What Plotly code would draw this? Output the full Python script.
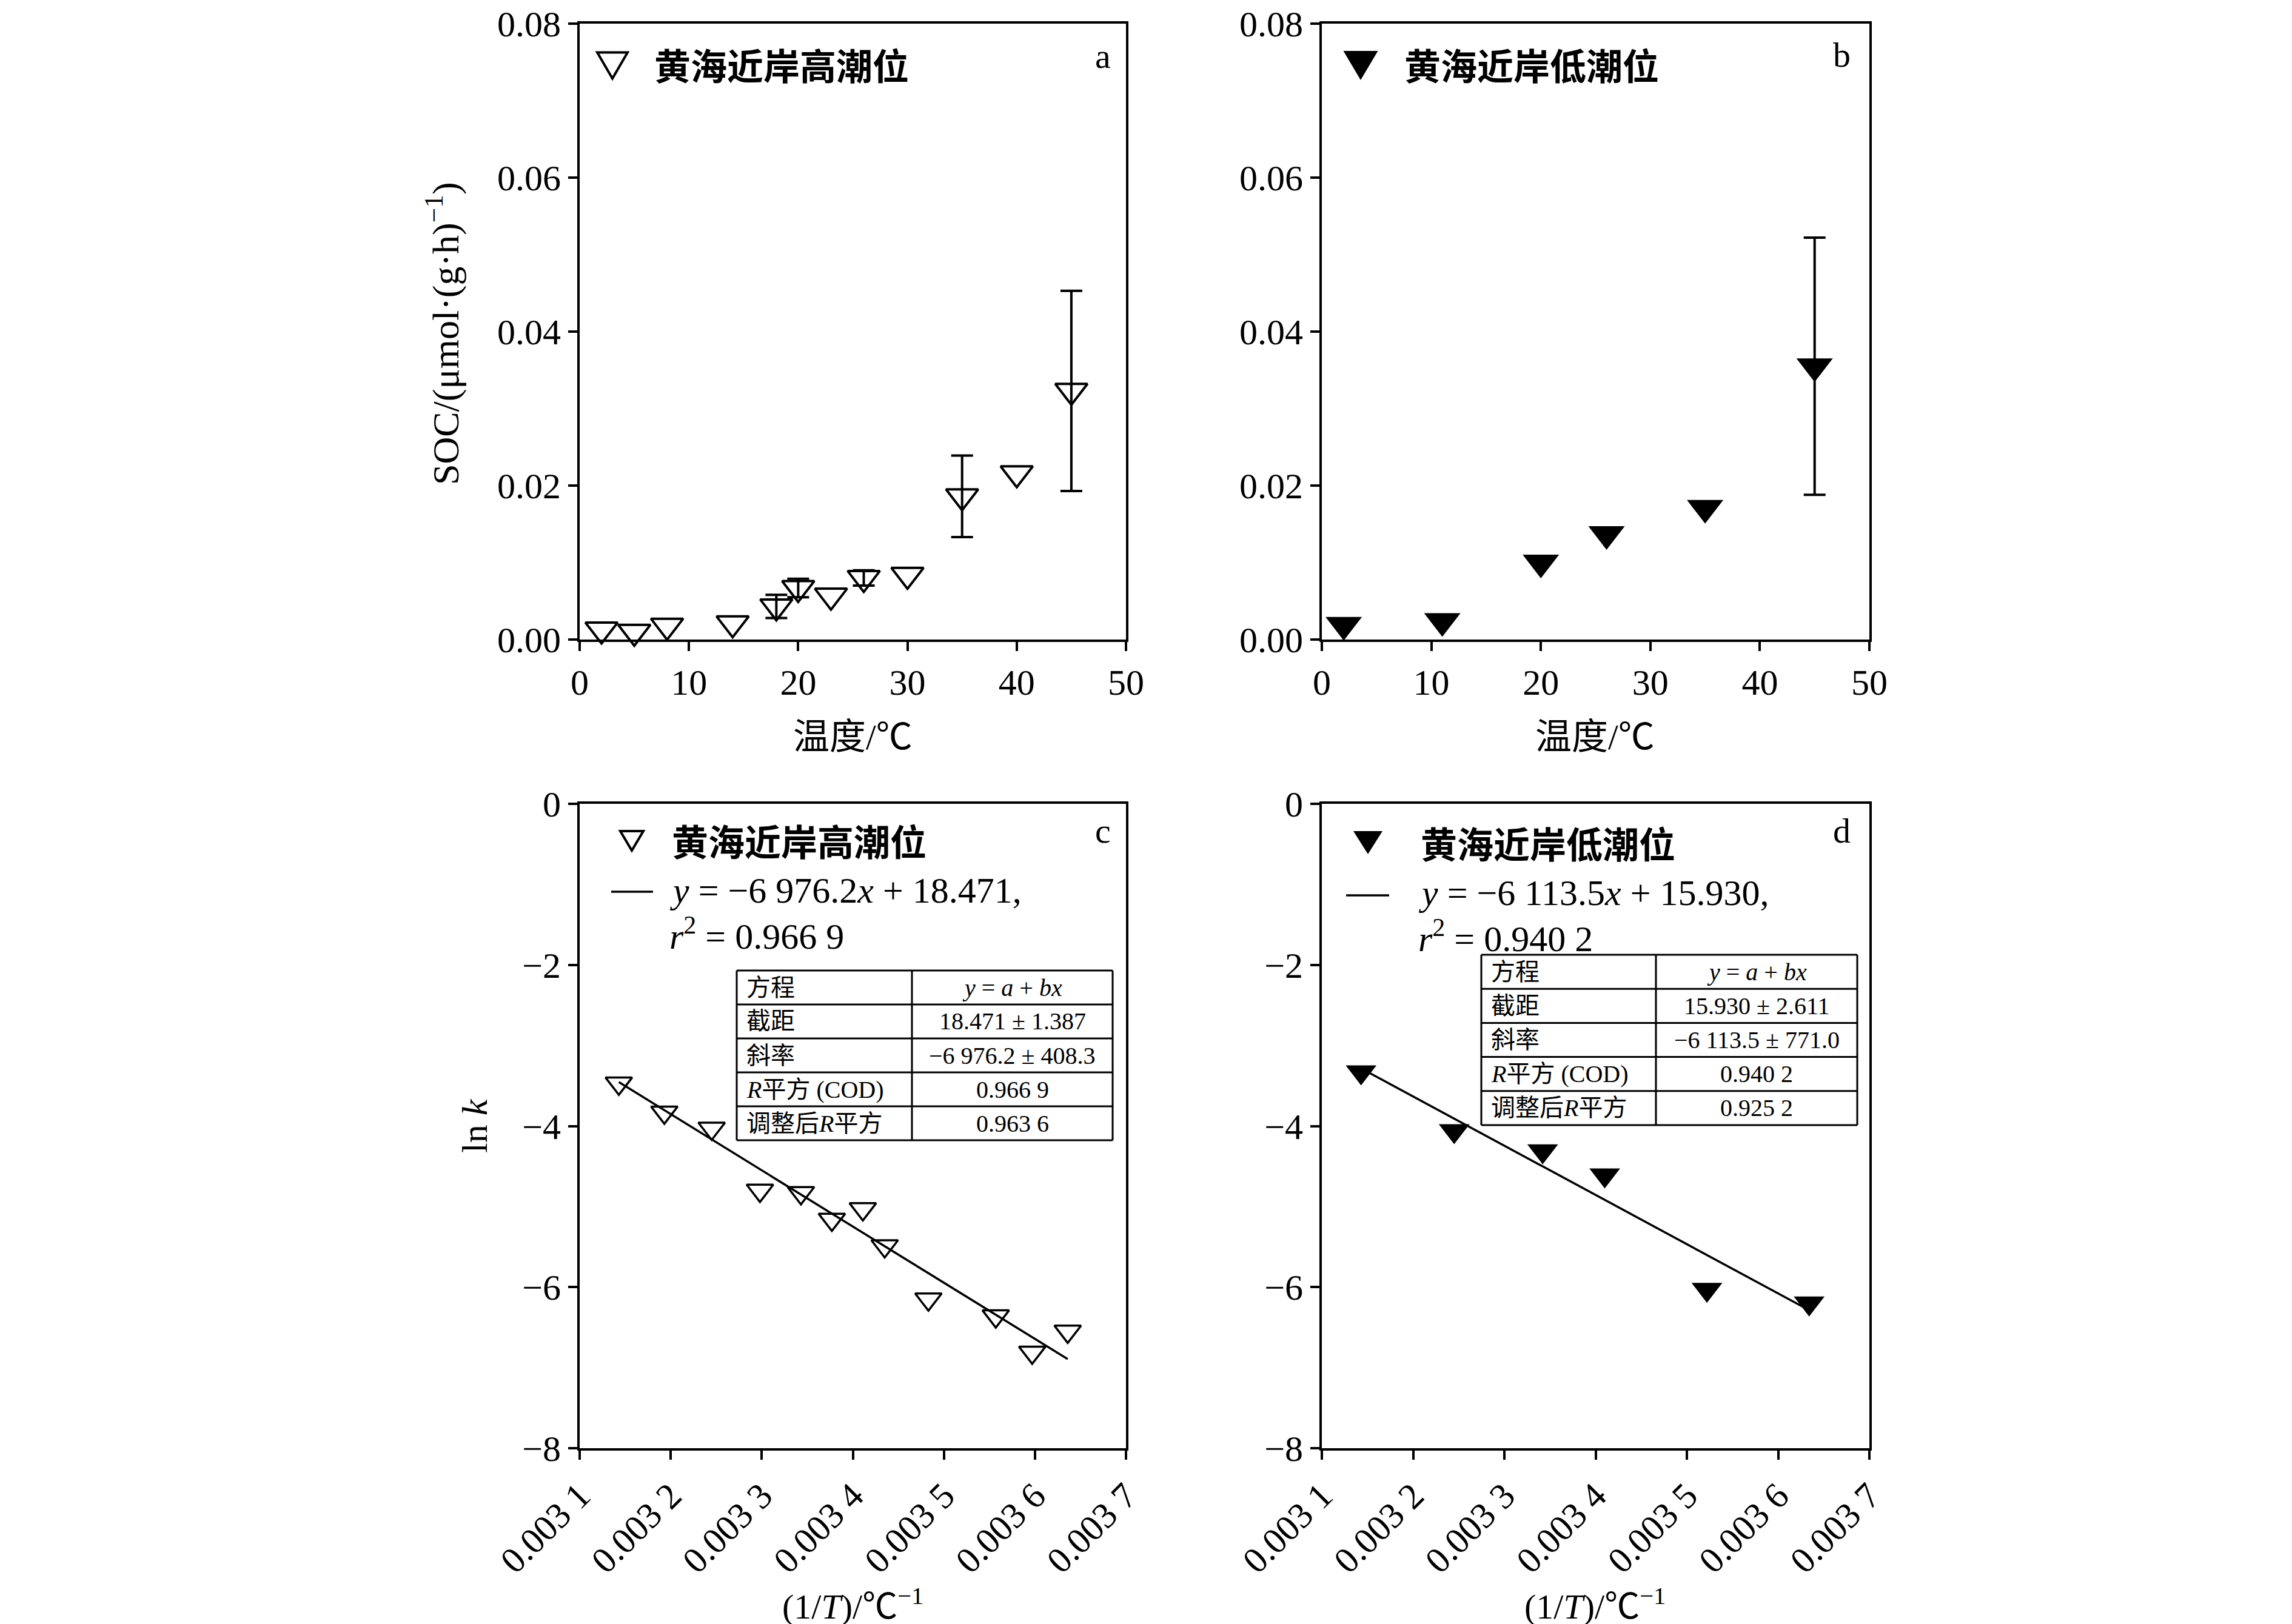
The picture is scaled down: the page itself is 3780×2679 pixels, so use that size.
import plotly.graph_objects as go

W, H = 3780, 2679

# ---------------- data ----------------
temp_a = [2, 5, 8, 14, 18, 20, 23, 26, 30, 35, 40, 45]
soc_a = [0.0013, 0.0010, 0.0018, 0.0021, 0.0043, 0.0067, 0.0057, 0.0080, 0.0084, 0.0186, 0.0216, 0.0323]
err_a = [0, 0, 0, 0, 0.0015, 0.0012, 0, 0.0010, 0, 0.0053, 0, 0.0130]

temp_b = [2, 11, 20, 26, 35, 45]
soc_b = [0.0019, 0.0024, 0.0100, 0.0137, 0.0171, 0.0355]
err_b = [0, 0, 0, 0, 0, 0.0167]

invT_c = [0.003143, 0.003193, 0.003245, 0.003298, 0.003343, 0.003377, 0.003411, 0.003435, 0.003483, 0.003557, 0.003597, 0.003636]
lnk_c = [-3.47, -3.83, -4.03, -4.80, -4.83, -5.16, -5.03, -5.49, -6.15, -6.36, -6.81, -6.55]
slope_c, intercept_c = -6976.2, 18.471

invT_d = [0.003143, 0.003245, 0.003342, 0.003410, 0.003522, 0.003634]
lnk_d = [-3.33, -4.06, -4.31, -4.61, -6.03, -6.20]
slope_d, intercept_d = -6113.5, 15.930

soc_ticks = [0, 0.02, 0.04, 0.06, 0.08]
soc_ticktext = ["0.00", "0.02", "0.04", "0.06", "0.08"]
temp_ticks = [0, 10, 20, 30, 40, 50]
invT_ticks = [0.0031, 0.0032, 0.0033, 0.0034, 0.0035, 0.0036, 0.0037]
invT_ticktext = ["0.003 1", "0.003 2", "0.003 3", "0.003 4", "0.003 5", "0.003 6", "0.003 7"]
lnk_ticks = [-8, -6, -4, -2, 0]
lnk_ticktext = ["\u22128", "\u22126", "\u22124", "\u22122", "0"]

legend_high = "黄海近岸高潮位"
legend_low = "黄海近岸低潮位"
eq_c = ["<i>y</i> = \u22126 976.2<i>x</i> + 18.471,", "<i>r</i><sup>2</sup> = 0.966 9"]
eq_d = ["<i>y</i> = \u22126 113.5<i>x</i> + 15.930,", "<i>r</i><sup>2</sup> = 0.940 2"]
table_labels = ["方程", "截距", "斜率", "<i>R</i>平方 (COD)", "调整后<i>R</i>平方"]
table_c_vals = ["<i>y</i> = <i>a</i> + <i>bx</i>", "18.471 \u00b1 1.387", "\u22126 976.2 \u00b1 408.3", "0.966 9", "0.963 6"]
table_d_vals = ["<i>y</i> = <i>a</i> + <i>bx</i>", "15.930 \u00b1 2.611", "\u22126 113.5 \u00b1 771.0", "0.940 2", "0.925 2"]

FONT = "Liberation Serif, Noto Sans CJK SC, serif"
CJK_BOLD = "Noto Sans CJK SC, sans-serif"


def px(x):
    return x / W


def py(y):
    return 1 - y / H


# panel boxes in pixels (x0, x1, ytop, ybottom)
boxes = {
    "a": (948, 1849, 31, 1047),
    "b": (2172, 3075, 31, 1047),
    "c": (948, 1849, 1318, 2381),
    "d": (2172, 3075, 1318, 2381),
}

fig = go.Figure()


def axis_style(**kw):
    d = dict(showline=True, linecolor="black", linewidth=4, mirror=True,
             ticks="outside", ticklen=15, tickwidth=4, tickcolor="black",
             showgrid=False, zeroline=False, fixedrange=True, automargin=False,
             ticklabeloverflow="allow",
             tickfont=dict(family=FONT, size=60, color="black"))
    d.update(kw)
    return d


def err_subset(xs, ys, es):
    sx = [x for x, e in zip(xs, es) if e > 0]
    sy = [y for y, e in zip(ys, es) if e > 0]
    se = [e for e in es if e > 0]
    return sx, sy, se


# panel a
sx, sy, se = err_subset(temp_a, soc_a, err_a)
fig.add_trace(go.Scatter(x=sx, y=sy, mode="markers", marker=dict(size=1, color="rgba(0,0,0,0)"),
                         error_y=dict(type="data", array=se, visible=True, color="black", thickness=4, width=18),
                         xaxis="x", yaxis="y", cliponaxis=False))
fig.add_trace(go.Scatter(x=temp_a, y=soc_a, mode="markers",
                         marker=dict(symbol="triangle-down-open", size=46, color="black", line=dict(width=4)),
                         xaxis="x", yaxis="y", cliponaxis=False))
# panel b
sx, sy, se = err_subset(temp_b, soc_b, err_b)
fig.add_trace(go.Scatter(x=sx, y=sy, mode="markers", marker=dict(size=1, color="rgba(0,0,0,0)"),
                         error_y=dict(type="data", array=se, visible=True, color="black", thickness=4, width=18),
                         xaxis="x2", yaxis="y2", cliponaxis=False))
fig.add_trace(go.Scatter(x=temp_b, y=soc_b, mode="markers",
                         marker=dict(symbol="triangle-down", size=52, color="black", line=dict(width=0)),
                         xaxis="x2", yaxis="y2", cliponaxis=False))
# panel c
xc = [invT_c[0], invT_c[-1]]
fig.add_trace(go.Scatter(x=xc, y=[slope_c * v + intercept_c for v in xc], mode="lines",
                         line=dict(color="black", width=3.5), xaxis="x3", yaxis="y3"))
fig.add_trace(go.Scatter(x=invT_c, y=lnk_c, mode="markers",
                         marker=dict(symbol="triangle-down-open", size=38, color="black", line=dict(width=3.5)),
                         xaxis="x3", yaxis="y3", cliponaxis=False))
# panel d
xd = [invT_d[0], invT_d[-1]]
fig.add_trace(go.Scatter(x=xd, y=[slope_d * v + intercept_d for v in xd], mode="lines",
                         line=dict(color="black", width=3.5), xaxis="x4", yaxis="y4"))
fig.add_trace(go.Scatter(x=invT_d, y=lnk_d, mode="markers",
                         marker=dict(symbol="triangle-down", size=44, color="black", line=dict(width=0)),
                         xaxis="x4", yaxis="y4", cliponaxis=False))


def dom(key):
    x0, x1, yt, yb = boxes[key]
    return [px(x0), px(x1)], [py(yb), py(yt)]


dxa, dya = dom("a")
dxb, dyb = dom("b")
dxc, dyc = dom("c")
dxd, dyd = dom("d")

layout = dict(
    template="none",
    width=W, height=H, autosize=False,
    margin=dict(l=0, r=0, t=0, b=0, pad=0, autoexpand=False),
    paper_bgcolor="white", plot_bgcolor="white", showlegend=False,
    font=dict(family=FONT, color="black"),
    xaxis=axis_style(domain=dxa, range=[0, 50], tickvals=temp_ticks, anchor="y"),
    yaxis=axis_style(domain=dya, range=[0, 0.08], tickvals=soc_ticks, ticktext=soc_ticktext, anchor="x"),
    xaxis2=axis_style(domain=dxb, range=[0, 50], tickvals=temp_ticks, anchor="y2"),
    yaxis2=axis_style(domain=dyb, range=[0, 0.08], tickvals=soc_ticks, ticktext=soc_ticktext, anchor="x2"),
    xaxis3=axis_style(domain=dxc, range=[0.0031, 0.0037], tickvals=invT_ticks, ticktext=invT_ticktext,
                      tickangle=-45, anchor="y3"),
    yaxis3=axis_style(domain=dyc, range=[-8, 0], tickvals=lnk_ticks, ticktext=lnk_ticktext, anchor="x3"),
    xaxis4=axis_style(domain=dxd, range=[0.0031, 0.0037], tickvals=invT_ticks, ticktext=invT_ticktext,
                      tickangle=-45, anchor="y4"),
    yaxis4=axis_style(domain=dyd, range=[-8, 0], tickvals=lnk_ticks, ticktext=lnk_ticktext, anchor="x4"),
)
fig.update_layout(**layout)

annotations = []
shapes = []


def text(x, y, s, size=58, xanchor="left", family=FONT, angle=0, bold=False):
    if bold:
        s = "<b>" + s + "</b>"
    annotations.append(dict(x=px(x), y=py(y), xref="paper", yref="paper", text=s, showarrow=False,
                            xanchor=xanchor, yanchor="middle", textangle=angle,
                            font=dict(family=family, size=size, color="black")))


def tri(cx, cy, w, h, filled):
    # legend key: downward triangle with bbox w x h centred at (cx, cy)
    p = "M {:.5f},{:.5f} L {:.5f},{:.5f} L {:.5f},{:.5f} Z".format(
        px(cx - w / 2), py(cy - h / 2), px(cx + w / 2), py(cy - h / 2), px(cx), py(cy + h / 2))
    shapes.append(dict(type="path", path=p, xref="paper", yref="paper",
                       line=dict(color="black", width=0 if filled else 4),
                       fillcolor="black" if filled else "rgba(0,0,0,0)"))


def hline(x0, x1, y, w=3):
    shapes.append(dict(type="line", x0=px(x0), x1=px(x1), y0=py(y), y1=py(y), xref="paper", yref="paper",
                       line=dict(color="black", width=w)))


def vline(x, y0, y1, w=3):
    shapes.append(dict(type="line", x0=px(x), x1=px(x), y0=py(y0), y1=py(y1), xref="paper", yref="paper",
                       line=dict(color="black", width=w)))


# axis titles
text(722, 542, "SOC/(μmol·(g·h)<sup>\u22121</sup>)", size=62, xanchor="center", angle=-90)
text(1398, 1208, "温度/℃", size=60, xanchor="center")
text(2622, 1208, "温度/℃", size=60, xanchor="center")
text(775, 1849, "ln <i>k</i>", size=60, xanchor="center", angle=-90)
text(1398, 2638, "(1/<i>T</i>)/℃<sup>\u22121</sup>", size=58, xanchor="center")
text(2622, 2638, "(1/<i>T</i>)/℃<sup>\u22121</sup>", size=58, xanchor="center")

# panel letters
text(1811, 84, "a", size=58, xanchor="center")
text(3029, 82, "b", size=58, xanchor="center")
text(1811, 1362, "c", size=58, xanchor="center")
text(3029, 1362, "d", size=58, xanchor="center")

# legends
tri(1002, 100, 50, 43, False)
text(1069, 98, legend_high, size=60, family=CJK_BOLD, bold=True)
tri(2236, 100, 57, 48, True)
text(2306, 98, legend_low, size=60, family=CJK_BOLD, bold=True)

tri(1034, 1379, 38, 32, False)
text(1098, 1377, legend_high, size=60, family=CJK_BOLD, bold=True)
hline(1000, 1069, 1463, 3.5)
text(1094, 1461, eq_c[0], size=60)
text(1094, 1533, eq_c[1], size=60)

tri(2248, 1382, 48, 38, True)
text(2333, 1381, legend_low, size=60, family=CJK_BOLD, bold=True)
hline(2212, 2283, 1469, 3.5)
text(2329, 1465, eq_d[0], size=60)
text(2329, 1537, eq_d[1], size=60)


def table(x0, xs, x1, y0, y1, labels, vals):
    n = len(labels)
    rh = (y1 - y0) / n
    for i in range(n + 1):
        hline(x0, x1, y0 + i * rh, 3)
    vline(x0, y0, y1, 3)
    vline(xs, y0, y1, 3)
    vline(x1, y0, y1, 3)
    for i, (lab, val) in enumerate(zip(labels, vals)):
        cy = y0 + (i + 0.5) * rh
        text(x0 + 14, cy, lab, size=40)
        text((xs + x1) / 2, cy, val, size=40, xanchor="center")


table(1207, 1496, 1827, 1593, 1873, table_labels, table_c_vals)
table(2435, 2723, 3055, 1567, 1848, table_labels, table_d_vals)

fig.update_layout(annotations=annotations, shapes=shapes)
fig.write_html("out.html")
